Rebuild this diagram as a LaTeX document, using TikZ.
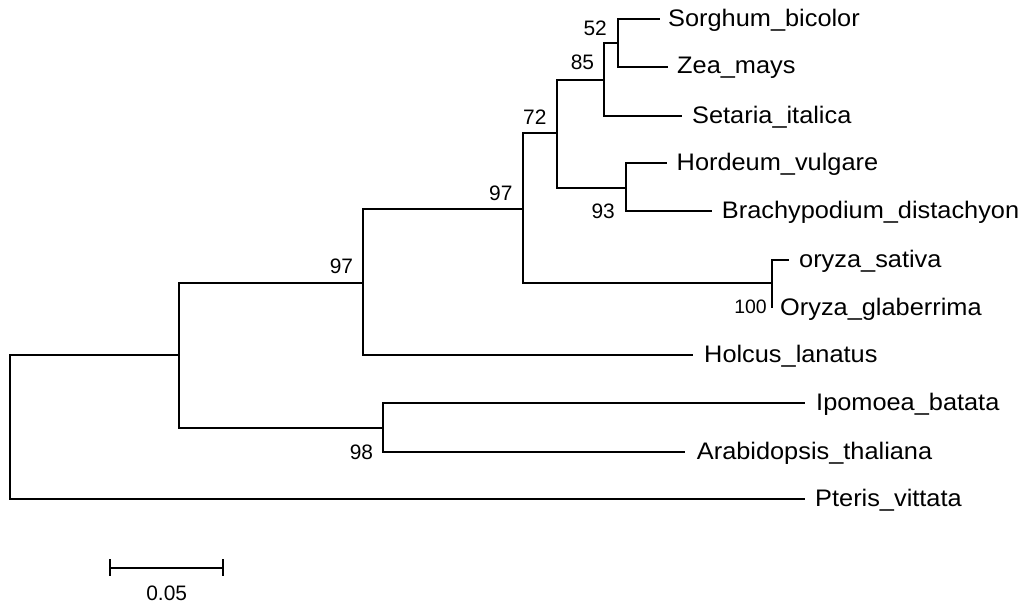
\documentclass[tikz,border=0pt]{standalone}
\usepackage{fontspec}
\setmainfont{Liberation Sans}
\newfontfamily\labfont{Liberation Sans}[FakeStretch=1.06]
\tikzset{
  br/.style={line width=1.8bp, line join=miter},
  leaf/.style={inner sep=0pt, anchor=base west, font=\labfont\fontsize{24}{24}\selectfont},
  boot/.style={inner sep=0pt, anchor=base east, font=\fontsize{21}{21}\selectfont},
  bootsmall/.style={inner sep=0pt, anchor=base east, font=\fontsize{19.5}{19.5}\selectfont},
}
\begin{document}
\begin{tikzpicture}[x=1bp,y=-1bp]
\useasboundingbox (0,0) rectangle (1030,606);
% internal nodes
\coordinate (R) at (10,427);
\coordinate (A) at (179,355);
\coordinate (B) at (363,283);
\coordinate (C) at (383,428);
\coordinate (D) at (523,209);
\coordinate (E) at (557,133);
\coordinate (F) at (604,80);
\coordinate (G) at (618,43);
\coordinate (H) at (626,188);
\coordinate (O) at (772,283);
% tips
\coordinate (tSor) at (660,19);
\coordinate (tZea) at (668,67);
\coordinate (tSet) at (682,116);
\coordinate (tHor) at (667,163);
\coordinate (tBra) at (712,211);
\coordinate (tOs) at (789,260);
\coordinate (tOg) at (772,308);
\coordinate (tHol) at (693,355);
\coordinate (tIpo) at (805,403);
\coordinate (tAra) at (685,452);
\coordinate (tPte) at (805,499);
% branches
\draw[br] (R) |- (A);
\draw[br] (R) |- (tPte);
\draw[br] (A) |- (B);
\draw[br] (A) |- (C);
\draw[br] (B) |- (D);
\draw[br] (B) |- (tHol);
\draw[br] (C) |- (tIpo);
\draw[br] (C) |- (tAra);
\draw[br] (D) |- (E);
\draw[br] (D) |- (O);
\draw[br] (E) |- (F);
\draw[br] (E) |- (H);
\draw[br] (F) |- (G);
\draw[br] (F) |- (tSet);
\draw[br] (G) |- (tSor);
\draw[br] (G) |- (tZea);
\draw[br] (H) |- (tHor);
\draw[br] (H) |- (tBra);
\draw[br] (O) |- (tOs);
\draw[br] (O) |- (tOg);
% leaf labels
\node[leaf] (lSor) at (668,26.7) {Sorghum\_bicolor};
\node[leaf] (lZea) at (677,74) {Zea\_mays};
\node[leaf] (lSet) at (692,123.3) {Setaria\_italica};
\node[leaf] (lHor) at (676.5,170.6) {Hordeum\_vulgare};
\node[leaf] (lBra) at (721.7,218.3) {Brachypodium\_distachyon};
\node[leaf] (lOs) at (799,267.3) {oryza\_sativa};
\node[leaf] (lOg) at (780,315.3) {Oryza\_glaberrima};
\node[leaf] (lHol) at (704,362.3) {Holcus\_lanatus};
\node[leaf] (lIpo) at (816,410.6) {Ipomoea\_batata};
\node[leaf] (lAra) at (696.7,459) {Arabidopsis\_thaliana};
\node[leaf] (lPte) at (815,506.3) {Pteris\_vittata};
% bootstrap values
\node[boot] (bG) at (607,35.5) {52};
\node[boot] (bF) at (594.3,70) {85};
\node[boot] (bE) at (546.7,125) {72};
\node[boot] (bD) at (512.7,200.5) {97};
\node[boot] (bB) at (353.3,273.3) {97};
\node[boot] (bH) at (615,218.5) {93};
\node[boot] (bC) at (373.3,459) {98};
\node[bootsmall] (bO) at (767,313.3) {100};
% scale bar
\coordinate (s1) at (110,568);
\coordinate (s2) at (223,568);
\coordinate (s1t) at (110,559);
\coordinate (s1b) at (110,576);
\coordinate (s2t) at (223,559);
\coordinate (s2b) at (223,576);
\draw[br] (s1) -- (s2);
\draw[br] (s1t) -- (s1b);
\draw[br] (s2t) -- (s2b);
\node[inner sep=0pt, anchor=base, font=\fontsize{21}{21}\selectfont] (scale) at (166.7,600) {0.05};
\end{tikzpicture}
\end{document}
